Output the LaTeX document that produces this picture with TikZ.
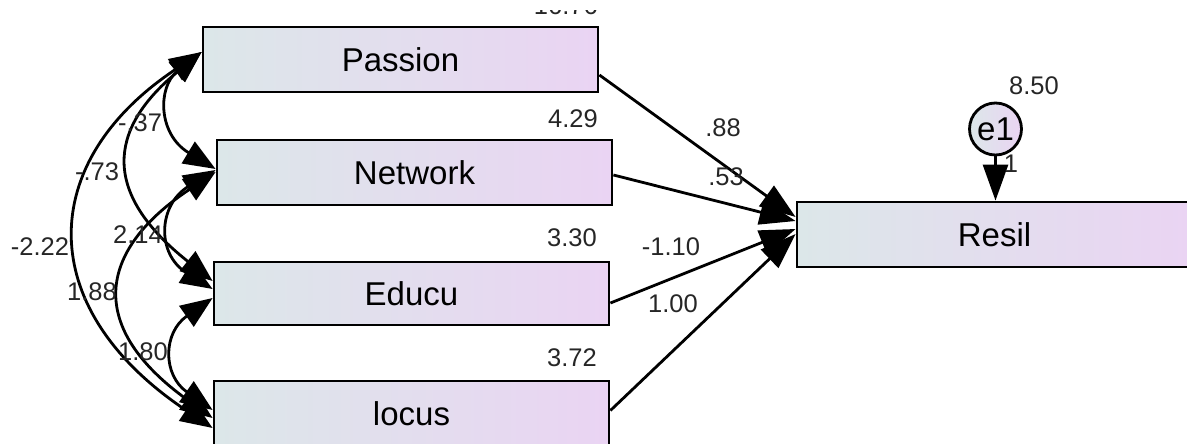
\documentclass[tikz,border=0pt]{standalone}
\usepackage{fontspec}
\setmainfont{Liberation Sans}
\usepackage{tikz}
\usetikzlibrary{arrows.meta}

\definecolor{boxleft}{RGB}{220,231,233}
\definecolor{boxright}{RGB}{234,212,243}
\newcommand{\boxfont}{\fontsize{33}{38}\selectfont}
\newcommand{\numfont}{\fontsize{25.5}{30}\selectfont}

\tikzset{
  var/.style={draw=black, line width=2.8pt, left color=boxleft, right color=boxright,
    minimum width=395pt, minimum height=65pt, inner sep=0pt, font=\boxfont},
  err/.style={circle, draw=black, line width=2.8pt, left color=boxleft, right color=boxright,
    minimum size=52pt, inner sep=0pt, font=\boxfont},
  est/.style={font=\numfont, text=black!85, inner sep=0pt},
  regarrow/.style={line width=2.8pt, -{Triangle[length=36pt,width=25pt]}},
  cov/.style={line width=2.8pt, {Triangle[length=32pt,width=25pt]}-{Triangle[length=32pt,width=25pt]}},
}

\begin{document}
\begin{tikzpicture}[x=1pt,y=-1pt]
\clip (0,0) rectangle (1187,444);

\node[var] (passion) at (400.5,59.5) {Passion};
\node[var] (network) at (414.5,172.5) {Network};
\node[var, minimum height=63pt] (educu) at (411.5,293.5) {Educu};
\node[var] (locus) at (411.5,413.5) {locus};
\node[var] (resil) at (994.5,234.5) {Resil};
\node[err] (e1) at (995.5,129) {e1};

% regression paths
\draw[regarrow] ([yshift=-15.5pt]passion.east) -- ([yshift=17.5pt]resil.west);
\draw[regarrow] ([yshift=-2.5pt]network.east) -- ([yshift=13.5pt]resil.west);
\draw[regarrow] ([yshift=-9.5pt]educu.east) -- ([yshift=5.5pt]resil.west);
\draw[regarrow] ([yshift=3pt]locus.east) -- ([yshift=0.5pt]resil.west);
\draw[regarrow] (e1) -- (e1 |- resil.north);

% covariances
\draw[cov] ([yshift=7.5pt]passion.west) .. controls +(-44,35) and +(-58,-35) .. ([yshift=3.5pt]network.west);
\draw[cov] ([yshift=7.5pt]passion.west) .. controls +(-85,70) and +(-120,-95) .. ([yshift=12.5pt]educu.west);
\draw[cov] ([yshift=7.5pt]passion.west) .. controls +(-165,110) and +(-180,-120) .. ([yshift=-14.5pt]locus.west);
\draw[cov] ([yshift=2.5pt]network.west) .. controls +(-58,35) and +(-56,-35) .. ([yshift=4.5pt]educu.west);
\draw[cov] ([yshift=0.5pt]network.west) .. controls +(-120,80) and +(-125,-90) .. ([yshift=-4.5pt]locus.west);
\draw[cov] ([yshift=-4.5pt]educu.west) .. controls +(-50,35) and +(-50,-35) .. ([yshift=3.5pt]locus.west);

% estimates
\begin{scope}
\clip (500,11) rectangle (620,30);
\node[est, anchor=base east] (m0) at (598,15) {16.76};
\end{scope}
\node[est] (m1) at (573,119) {4.29};
\node[est] (m2) at (572,238) {3.30};
\node[est] (m3) at (572,358) {3.72};
\node[est] (m4) at (1034,86) {8.50};

\node[est] (b1) at (723,128) {.88};
\node[est] (b2) at (726,177) {.53};
\node[est] (b3) at (671,247) {-1.10};
\node[est] (b4) at (673,304) {1.00};
\node[est] (b5) at (1011,164) {1};

\node[est] (c1) at (140,123) {-.37};
\node[est] (c2) at (97,172) {-.73};
\node[est] (c3) at (40,247) {-2.22};
\node[est] (c4) at (138,235) {2.14};
\node[est] (c5) at (92,292) {1.88};
\node[est] (c6) at (143,352) {1.80};
\end{tikzpicture}
\end{document}
